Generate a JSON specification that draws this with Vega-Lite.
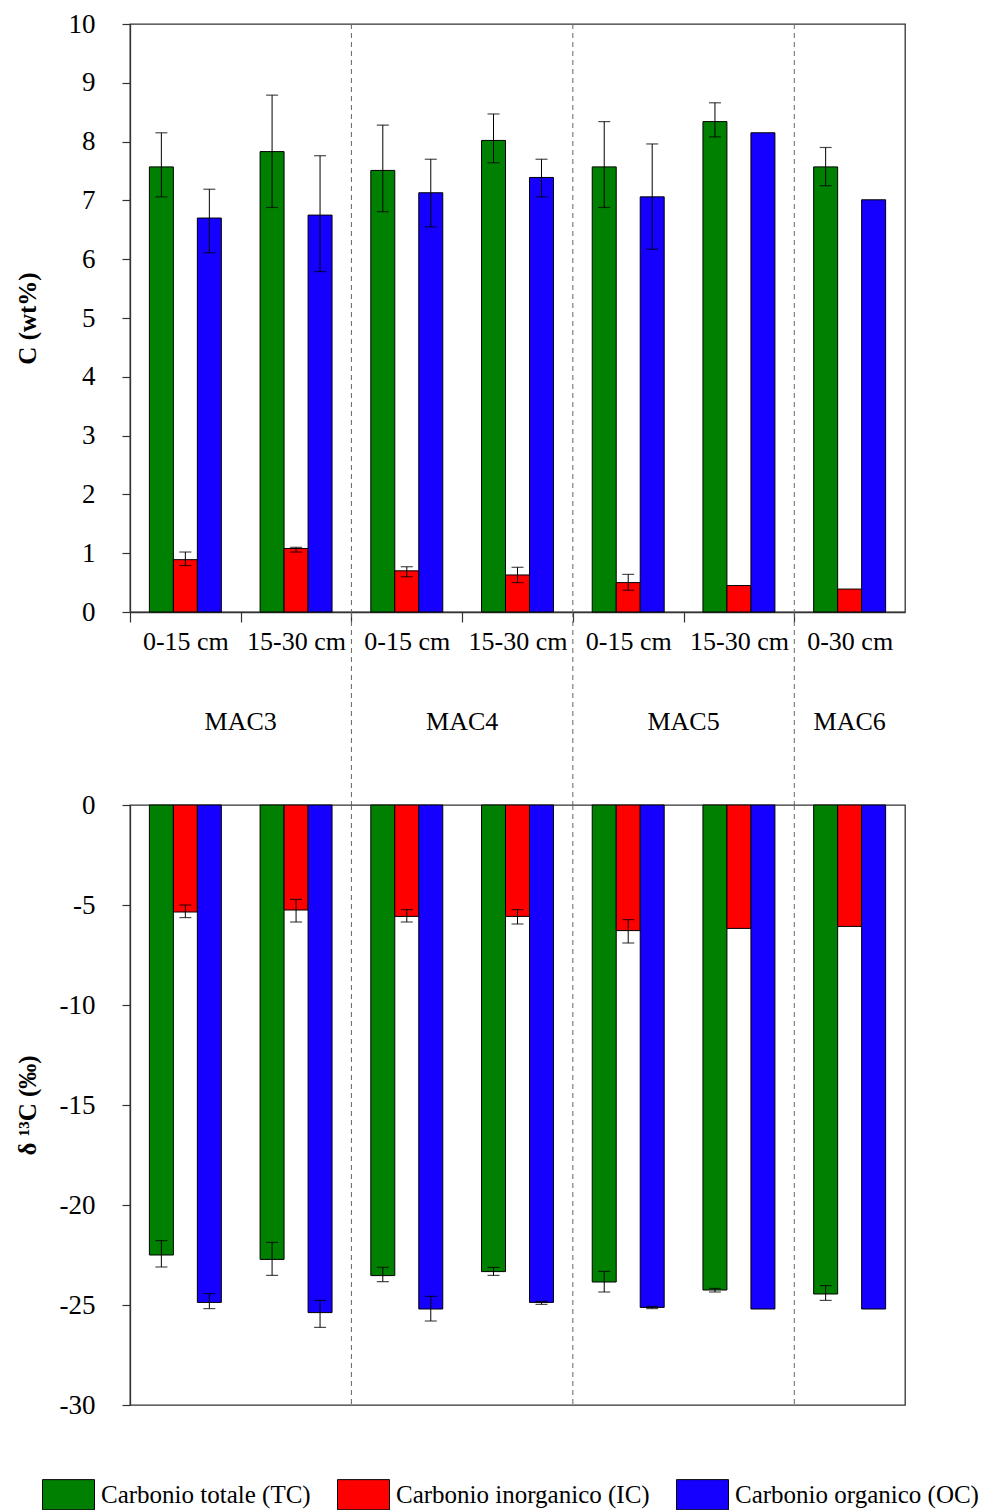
{
  "$schema": "https://vega.github.io/schema/vega-lite/v6.json",
  "padding": {"left": 14, "top": 9, "right": 4, "bottom": 10},
  "bounds": "flush",
  "spacing": 0,
  "datasets": {
    "bars": [
      {"g": "MAC3 0-15 cm", "comp": "Carbonio totale (TC)", "c": 7.57, "clo": 7.06, "chi": 8.15, "d": -22.5, "dlo": -23.1, "dhi": -21.78},
      {"g": "MAC3 0-15 cm", "comp": "Carbonio inorganico (IC)", "c": 0.89, "clo": 0.79, "chi": 1.02, "d": -5.35, "dlo": -5.63, "dhi": -5.0},
      {"g": "MAC3 0-15 cm", "comp": "Carbonio organico (OC)", "c": 6.7, "clo": 6.11, "chi": 7.19, "d": -24.87, "dlo": -25.18, "dhi": -24.43},
      {"g": "MAC3 15-30 cm", "comp": "Carbonio totale (TC)", "c": 7.83, "clo": 6.88, "chi": 8.79, "d": -22.72, "dlo": -23.52, "dhi": -21.87},
      {"g": "MAC3 15-30 cm", "comp": "Carbonio inorganico (IC)", "c": 1.08, "clo": 1.02, "chi": 1.1, "d": -5.25, "dlo": -5.85, "dhi": -4.72},
      {"g": "MAC3 15-30 cm", "comp": "Carbonio organico (OC)", "c": 6.75, "clo": 5.79, "chi": 7.76, "d": -25.38, "dlo": -26.12, "dhi": -24.77},
      {"g": "MAC4 0-15 cm", "comp": "Carbonio totale (TC)", "c": 7.51, "clo": 6.81, "chi": 8.28, "d": -23.53, "dlo": -23.83, "dhi": -23.12},
      {"g": "MAC4 0-15 cm", "comp": "Carbonio inorganico (IC)", "c": 0.7, "clo": 0.6, "chi": 0.77, "d": -5.57, "dlo": -5.85, "dhi": -5.23},
      {"g": "MAC4 0-15 cm", "comp": "Carbonio organico (OC)", "c": 7.13, "clo": 6.55, "chi": 7.7, "d": -25.2, "dlo": -25.8, "dhi": -24.57},
      {"g": "MAC4 15-30 cm", "comp": "Carbonio totale (TC)", "c": 8.02, "clo": 7.64, "chi": 8.47, "d": -23.33, "dlo": -23.52, "dhi": -23.12},
      {"g": "MAC4 15-30 cm", "comp": "Carbonio inorganico (IC)", "c": 0.63, "clo": 0.5, "chi": 0.76, "d": -5.57, "dlo": -5.95, "dhi": -5.23},
      {"g": "MAC4 15-30 cm", "comp": "Carbonio organico (OC)", "c": 7.39, "clo": 7.06, "chi": 7.7, "d": -24.87, "dlo": -24.97, "dhi": -24.82},
      {"g": "MAC5 0-15 cm", "comp": "Carbonio totale (TC)", "c": 7.57, "clo": 6.88, "chi": 8.34, "d": -23.85, "dlo": -24.35, "dhi": -23.32},
      {"g": "MAC5 0-15 cm", "comp": "Carbonio inorganico (IC)", "c": 0.5, "clo": 0.37, "chi": 0.64, "d": -6.28, "dlo": -6.9, "dhi": -5.73},
      {"g": "MAC5 0-15 cm", "comp": "Carbonio organico (OC)", "c": 7.06, "clo": 6.17, "chi": 7.96, "d": -25.12, "dlo": -25.18, "dhi": -25.07},
      {"g": "MAC5 15-30 cm", "comp": "Carbonio totale (TC)", "c": 8.34, "clo": 8.08, "chi": 8.66, "d": -24.25, "dlo": -24.35, "dhi": -24.17},
      {"g": "MAC5 15-30 cm", "comp": "Carbonio inorganico (IC)", "c": 0.45, "d": -6.17},
      {"g": "MAC5 15-30 cm", "comp": "Carbonio organico (OC)", "c": 8.15, "d": -25.2},
      {"g": "MAC6 0-30 cm", "comp": "Carbonio totale (TC)", "c": 7.57, "clo": 7.25, "chi": 7.9, "d": -24.45, "dlo": -24.77, "dhi": -24.03},
      {"g": "MAC6 0-30 cm", "comp": "Carbonio inorganico (IC)", "c": 0.39, "d": -6.07},
      {"g": "MAC6 0-30 cm", "comp": "Carbonio organico (OC)", "c": 7.01, "d": -25.2}
    ],
    "bounds": [{"b": 2}, {"b": 4}, {"b": 6}],
    "sites": [
      {"site": "MAC3", "pos": 1},
      {"site": "MAC4", "pos": 3},
      {"site": "MAC5", "pos": 5},
      {"site": "MAC6", "pos": 6.5}
    ]
  },
  "vconcat": [
    {
      "width": 775,
      "height": 588,
      "layer": [
        {
          "data": {"name": "bounds"},
          "mark": {"type": "rule", "strokeDash": [5, 4], "color": "#666", "strokeWidth": 1},
          "encoding": {"x": {"field": "b", "type": "quantitative", "scale": {"domain": [0, 7]}, "axis": null}}
        },
        {
          "data": {"name": "bars"},
          "mark": {"type": "bar", "stroke": "black", "strokeWidth": 1},
          "encoding": {
            "x": {"field": "g", "type": "nominal", "sort": null,
                  "scale": {"domain": ["MAC3 0-15 cm", "MAC3 15-30 cm", "MAC4 0-15 cm", "MAC4 15-30 cm", "MAC5 0-15 cm", "MAC5 15-30 cm", "MAC6 0-30 cm"], "paddingInner": 0.35, "paddingOuter": 0.175},
                  "axis": {"title": null, "bandPosition": 0, "tickOffset": -19.38, "labelOffset": 19.38, "tickSize": 10, "labelPadding": 6, "labelAngle": 0, "labelFontSize": 26, "labelExpr": "slice(datum.label, 5)", "domain": true}},
            "xOffset": {"field": "comp", "type": "nominal", "scale": {"domain": ["Carbonio totale (TC)", "Carbonio inorganico (IC)", "Carbonio organico (OC)"], "paddingInner": 0, "paddingOuter": 0}},
            "y": {"field": "c", "type": "quantitative", "title": "C (wt%)",
                  "scale": {"domain": [0, 10]},
                  "axis": {"values": [0, 1, 2, 3, 4, 5, 6, 7, 8, 9, 10], "labelExpr": "'' + datum.value", "tickSize": 8, "labelPadding": 27, "titlePadding": 28, "grid": false, "titleFontWeight": "bold"}},
            "color": {"field": "comp", "type": "nominal",
                      "scale": {"domain": ["Carbonio totale (TC)", "Carbonio inorganico (IC)", "Carbonio organico (OC)"], "range": ["#008000", "#ff0000", "#1500ff"]},
                      "legend": {"title": null, "orient": "none", "legendX": -88, "legendY": 1444, "direction": "horizontal", "symbolType": "M-1,-0.58H1V0.58H-1Z", "symbolSize": 2704, "symbolStrokeColor": "black", "symbolStrokeWidth": 1, "labelFontSize": 25, "labelFont": "Liberation Serif", "labelLimit": 400, "columnPadding": 24, "labelOffset": 6}}
          }
        },
        {
          "data": {"name": "bars"},
          "transform": [{"filter": "isValid(datum.clo)"}],
          "mark": {"type": "rule", "color": "black", "strokeWidth": 1},
          "encoding": {
            "x": {"field": "g", "type": "nominal", "sort": null,
                  "scale": {"domain": ["MAC3 0-15 cm", "MAC3 15-30 cm", "MAC4 0-15 cm", "MAC4 15-30 cm", "MAC5 0-15 cm", "MAC5 15-30 cm", "MAC6 0-30 cm"], "paddingInner": 0.35, "paddingOuter": 0.175}, "axis": null},
            "xOffset": {"field": "comp", "type": "nominal", "scale": {"domain": ["Carbonio totale (TC)", "Carbonio inorganico (IC)", "Carbonio organico (OC)"], "paddingInner": 0, "paddingOuter": 0}},
            "y": {"field": "clo", "type": "quantitative", "title": "C (wt%)"},
            "y2": {"field": "chi"}
          }
        },
        {
          "data": {"name": "bars"},
          "transform": [{"filter": "isValid(datum.clo)"}],
          "mark": {"type": "tick", "color": "black", "size": 12, "thickness": 1.2},
          "encoding": {
            "x": {"field": "g", "type": "nominal", "sort": null,
                  "scale": {"domain": ["MAC3 0-15 cm", "MAC3 15-30 cm", "MAC4 0-15 cm", "MAC4 15-30 cm", "MAC5 0-15 cm", "MAC5 15-30 cm", "MAC6 0-30 cm"], "paddingInner": 0.35, "paddingOuter": 0.175}, "axis": null},
            "xOffset": {"field": "comp", "type": "nominal", "scale": {"domain": ["Carbonio totale (TC)", "Carbonio inorganico (IC)", "Carbonio organico (OC)"], "paddingInner": 0, "paddingOuter": 0}},
            "y": {"field": "clo", "type": "quantitative", "title": "C (wt%)"}
          }
        },
        {
          "data": {"name": "bars"},
          "transform": [{"filter": "isValid(datum.clo)"}],
          "mark": {"type": "tick", "color": "black", "size": 12, "thickness": 1.2},
          "encoding": {
            "x": {"field": "g", "type": "nominal", "sort": null,
                  "scale": {"domain": ["MAC3 0-15 cm", "MAC3 15-30 cm", "MAC4 0-15 cm", "MAC4 15-30 cm", "MAC5 0-15 cm", "MAC5 15-30 cm", "MAC6 0-30 cm"], "paddingInner": 0.35, "paddingOuter": 0.175}, "axis": null},
            "xOffset": {"field": "comp", "type": "nominal", "scale": {"domain": ["Carbonio totale (TC)", "Carbonio inorganico (IC)", "Carbonio organico (OC)"], "paddingInner": 0, "paddingOuter": 0}},
            "y": {"field": "chi", "type": "quantitative", "title": "C (wt%)"}
          }
        }
      ],
      "resolve": {"scale": {"x": "independent"}}
    },
    {
      "width": 775,
      "height": 193,
      "view": {"stroke": null},
      "layer": [
        {
          "data": {"name": "bounds"},
          "mark": {"type": "rule", "strokeDash": [5, 4], "color": "#666", "strokeWidth": 1},
          "encoding": {"x": {"field": "b", "type": "quantitative", "scale": {"domain": [0, 7]}, "axis": null}}
        },
        {
          "data": {"name": "sites"},
          "mark": {"type": "text", "fontSize": 26, "font": "Liberation Serif", "baseline": "middle", "color": "black"},
          "encoding": {
            "x": {"field": "pos", "type": "quantitative", "scale": {"domain": [0, 7]}, "axis": null},
            "y": {"datum": 0.43, "type": "quantitative", "scale": {"domain": [0, 1]}, "axis": null},
            "text": {"field": "site"}
          }
        }
      ]
    },
    {
      "width": 775,
      "height": 600,
      "layer": [
        {
          "data": {"name": "bounds"},
          "mark": {"type": "rule", "strokeDash": [5, 4], "color": "#666", "strokeWidth": 1},
          "encoding": {"x": {"field": "b", "type": "quantitative", "scale": {"domain": [0, 7]}, "axis": null}}
        },
        {
          "data": {"name": "bars"},
          "mark": {"type": "bar", "stroke": "black", "strokeWidth": 1},
          "encoding": {
            "x": {"field": "g", "type": "nominal", "sort": null,
                  "scale": {"domain": ["MAC3 0-15 cm", "MAC3 15-30 cm", "MAC4 0-15 cm", "MAC4 15-30 cm", "MAC5 0-15 cm", "MAC5 15-30 cm", "MAC6 0-30 cm"], "paddingInner": 0.35, "paddingOuter": 0.175}, "axis": null},
            "xOffset": {"field": "comp", "type": "nominal", "scale": {"domain": ["Carbonio totale (TC)", "Carbonio inorganico (IC)", "Carbonio organico (OC)"], "paddingInner": 0, "paddingOuter": 0}},
            "y": {"field": "d", "type": "quantitative", "title": "δ ¹³C (‰)",
                  "scale": {"domain": [-30, 0]},
                  "axis": {"values": [-30, -25, -20, -15, -10, -5, 0], "labelExpr": "'' + datum.value", "tickSize": 8, "labelPadding": 27, "titlePadding": 19, "grid": false, "titleFontWeight": "bold"}},
            "color": {"field": "comp", "type": "nominal",
                      "scale": {"domain": ["Carbonio totale (TC)", "Carbonio inorganico (IC)", "Carbonio organico (OC)"], "range": ["#008000", "#ff0000", "#1500ff"]},
                      "legend": {"title": null, "orient": "none", "legendX": -88, "legendY": 1444, "direction": "horizontal", "symbolType": "M-1,-0.58H1V0.58H-1Z", "symbolSize": 2704, "symbolStrokeColor": "black", "symbolStrokeWidth": 1, "labelFontSize": 25, "labelFont": "Liberation Serif", "labelLimit": 400, "columnPadding": 24, "labelOffset": 6}}
          }
        },
        {
          "data": {"name": "bars"},
          "transform": [{"filter": "isValid(datum.dlo)"}],
          "mark": {"type": "rule", "color": "black", "strokeWidth": 1},
          "encoding": {
            "x": {"field": "g", "type": "nominal", "sort": null,
                  "scale": {"domain": ["MAC3 0-15 cm", "MAC3 15-30 cm", "MAC4 0-15 cm", "MAC4 15-30 cm", "MAC5 0-15 cm", "MAC5 15-30 cm", "MAC6 0-30 cm"], "paddingInner": 0.35, "paddingOuter": 0.175}, "axis": null},
            "xOffset": {"field": "comp", "type": "nominal", "scale": {"domain": ["Carbonio totale (TC)", "Carbonio inorganico (IC)", "Carbonio organico (OC)"], "paddingInner": 0, "paddingOuter": 0}},
            "y": {"field": "dlo", "type": "quantitative", "title": "δ ¹³C (‰)"},
            "y2": {"field": "dhi"}
          }
        },
        {
          "data": {"name": "bars"},
          "transform": [{"filter": "isValid(datum.dlo)"}],
          "mark": {"type": "tick", "color": "black", "size": 12, "thickness": 1.2},
          "encoding": {
            "x": {"field": "g", "type": "nominal", "sort": null,
                  "scale": {"domain": ["MAC3 0-15 cm", "MAC3 15-30 cm", "MAC4 0-15 cm", "MAC4 15-30 cm", "MAC5 0-15 cm", "MAC5 15-30 cm", "MAC6 0-30 cm"], "paddingInner": 0.35, "paddingOuter": 0.175}, "axis": null},
            "xOffset": {"field": "comp", "type": "nominal", "scale": {"domain": ["Carbonio totale (TC)", "Carbonio inorganico (IC)", "Carbonio organico (OC)"], "paddingInner": 0, "paddingOuter": 0}},
            "y": {"field": "dlo", "type": "quantitative", "title": "δ ¹³C (‰)"}
          }
        },
        {
          "data": {"name": "bars"},
          "transform": [{"filter": "isValid(datum.dlo)"}],
          "mark": {"type": "tick", "color": "black", "size": 12, "thickness": 1.2},
          "encoding": {
            "x": {"field": "g", "type": "nominal", "sort": null,
                  "scale": {"domain": ["MAC3 0-15 cm", "MAC3 15-30 cm", "MAC4 0-15 cm", "MAC4 15-30 cm", "MAC5 0-15 cm", "MAC5 15-30 cm", "MAC6 0-30 cm"], "paddingInner": 0.35, "paddingOuter": 0.175}, "axis": null},
            "xOffset": {"field": "comp", "type": "nominal", "scale": {"domain": ["Carbonio totale (TC)", "Carbonio inorganico (IC)", "Carbonio organico (OC)"], "paddingInner": 0, "paddingOuter": 0}},
            "y": {"field": "dhi", "type": "quantitative", "title": "δ ¹³C (‰)"}
          }
        }
      ],
      "resolve": {"scale": {"x": "independent"}}
    }
  ],
  "resolve": {"scale": {"x": "independent", "y": "independent"}},
  "config": {
    "font": "Liberation Serif",
    "view": {"stroke": "#333", "strokeWidth": 1.3},
    "axis": {
      "labelFont": "Liberation Serif",
      "labelFontSize": 27,
      "labelColor": "black",
      "titleFont": "Liberation Serif",
      "titleFontSize": 25,
      "titleColor": "black",
      "domainColor": "#333",
      "domainWidth": 1.3,
      "tickColor": "#333",
      "tickWidth": 1.2
    },
    "legend": {"labelColor": "black"}
  }
}
